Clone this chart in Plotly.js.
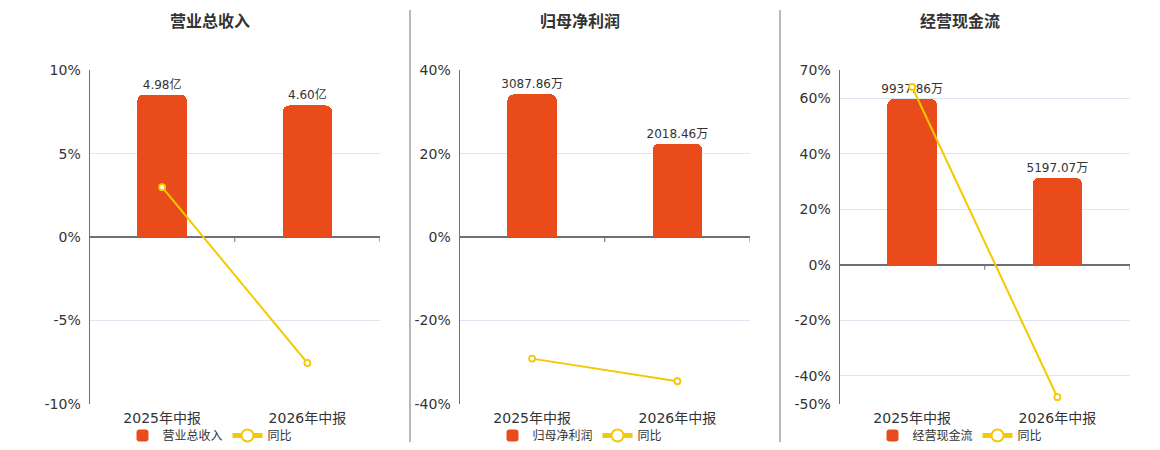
<!DOCTYPE html>
<html>
<head>
<meta charset="utf-8">
<script src="https://cdn.plot.ly/plotly-3.0.1.min.js"></script>
<style>
  html, body { margin: 0; padding: 0; background: #fff; }
  #chart { width: 1160px; height: 450px; }
</style>
</head>
<body>
<div id="chart"></div>
<script>
// values
const categories = ['2025年中报', '2026年中报'];
const panelTitles = ['营业总收入', '归母净利润', '经营现金流'];

const revenue = [4.98, 4.60];          // 亿
const revenueYoy = [2.99, -7.56];      // %
const netProfit = [3087.86, 2018.46];  // 万
const netProfitYoy = [-29.2, -34.63];
const cashFlow = [9937.86, 5197.07];   // 万
const cashFlowYoy = [64.0, -47.7];

const BAR_COLOR = '#e94b1b';
const LINE_COLOR = '#f4c900';
const TEXT = '#333';
const FONT = '"DejaVu Sans", "Noto Sans CJK SC", sans-serif';
const W = 1160, H = 450;

const panels = [
  { bars: revenue, yoy: revenueYoy, unit: '亿', pct: [-10, 10], barRange: [-5.83, 5.83],
    ticks: [-10, -5, 0, 5, 10], left: 89.5, right: 380, center: 210 },
  { bars: netProfit, yoy: netProfitYoy, unit: '万', pct: [-40, 40], barRange: [-3608, 3608],
    ticks: [-40, -20, 0, 20, 40], left: 459.5, right: 750, center: 580 },
  { bars: cashFlow, yoy: cashFlowYoy, unit: '万', pct: [-50, 70], barRange: [-8325, 11655],
    ticks: [-50, -40, -20, 0, 20, 40, 60, 70], left: 839.5, right: 1130, center: 960 },
];

const yDomain = [1 - 404.5 / H, 1 - 70.5 / H];
const data = [];
const layout = {
  width: W, height: H,
  margin: { l: 0, r: 0, t: 0, b: 0 },
  paper_bgcolor: '#fff', plot_bgcolor: 'rgba(0,0,0,0)',
  font: { family: FONT, color: TEXT, size: 12 },
  showlegend: true,
  bargap: 0,
  annotations: [],
  shapes: [],
};

panels.forEach((p, i) => {
  const n = i + 1;
  const xName = n === 1 ? 'x' : 'x' + n;
  const barY = n === 1 ? 'y' : 'y' + n;     // hidden axis for amounts
  const pctY = 'y' + (n + 3);               // visible percent axis, on top
  const legendName = n === 1 ? 'legend' : 'legend' + n;

  data.push({
    type: 'bar', name: panelTitles[i], x: categories, y: p.bars,
    xaxis: xName, yaxis: barY, legend: legendName,
    width: 0.34,
    marker: { color: BAR_COLOR, cornerradius: 6 },
    texttemplate: '%{y:.2f}' + p.unit, textposition: 'outside',
    constraintext: 'none',
    textfont: { size: 12, color: TEXT }, cliponaxis: false,
    hoverinfo: 'skip',
  });
  data.push({
    type: 'scatter', mode: 'lines+markers', name: '同比', x: categories, y: p.yoy,
    xaxis: xName, yaxis: pctY, legend: legendName,
    line: { color: LINE_COLOR, width: 2 },
    marker: { size: 6, color: '#fff', line: { color: LINE_COLOR, width: 1.8 } },
    cliponaxis: false, hoverinfo: 'skip',
  });

  const xKey = n === 1 ? 'xaxis' : 'xaxis' + n;
  const barKey = n === 1 ? 'yaxis' : 'yaxis' + n;
  const pctKey = 'yaxis' + (n + 3);

  layout[xKey] = {
    domain: [p.left / W, p.right / W], anchor: barY,
    type: 'category', range: [-0.5, 1.5],
    showgrid: false, showline: false, zeroline: false, ticks: '',
    tickfont: { size: 14, color: TEXT }, ticklabelstandoff: 4,
    fixedrange: true,
  };
  layout[barKey] = {
    domain: yDomain, anchor: xName, range: p.barRange,
    visible: false, fixedrange: true,
  };
  layout[pctKey] = {
    domain: yDomain, anchor: xName, overlaying: barY, side: 'left',
    range: p.pct, tickmode: 'array', tickvals: p.ticks,
    ticktext: p.ticks.map(v => v + '%'),
    showgrid: true, gridcolor: '#e0e6f1', gridwidth: 1,
    zeroline: true, zerolinecolor: '#6e7079', zerolinewidth: 2,
    showline: true, linecolor: '#6e7079', linewidth: 1,
    ticks: '', ticklabelstandoff: 5,
    tickfont: { size: 14, color: TEXT }, fixedrange: true,
  };
  layout[legendName] = {
    orientation: 'h', x: p.center / W, xanchor: 'center',
    y: 1 - 436 / H, yanchor: 'middle',
    font: { size: 12, color: TEXT }, itemsizing: 'constant',
    bgcolor: 'rgba(0,0,0,0)', itemclick: false, itemdoubleclick: false,
    tracegroupgap: 0,
  };

  layout.annotations.push({
    xref: 'paper', yref: 'paper', x: p.center / W, y: 1 - 22 / H,
    xanchor: 'center', yanchor: 'middle', showarrow: false,
    text: '<b>' + panelTitles[i] + '</b>', font: { size: 16, color: TEXT },
  });

  // category boundary ticks on the zero line
  [0.5, 1.5].forEach(bx => {
    layout.shapes.push({
      type: 'line', xref: xName, yref: pctY, ysizemode: 'pixel', yanchor: 0,
      x0: bx, x1: bx, y0: 0, y1: -5,
      line: { color: '#6e7079', width: 1 },
    });
  });
});

// panel separators
[410, 780].forEach(px => {
  layout.shapes.push({
    type: 'line', xref: 'paper', yref: 'paper',
    x0: px / W, x1: px / W, y0: 1 - 10 / H, y1: 1 - 443 / H,
    line: { color: '#a0a0a0', width: 1.5 },
  });
});

Plotly.newPlot('chart', data, layout, { staticPlot: true, displayModeBar: false });
</script>
</body>
</html>
